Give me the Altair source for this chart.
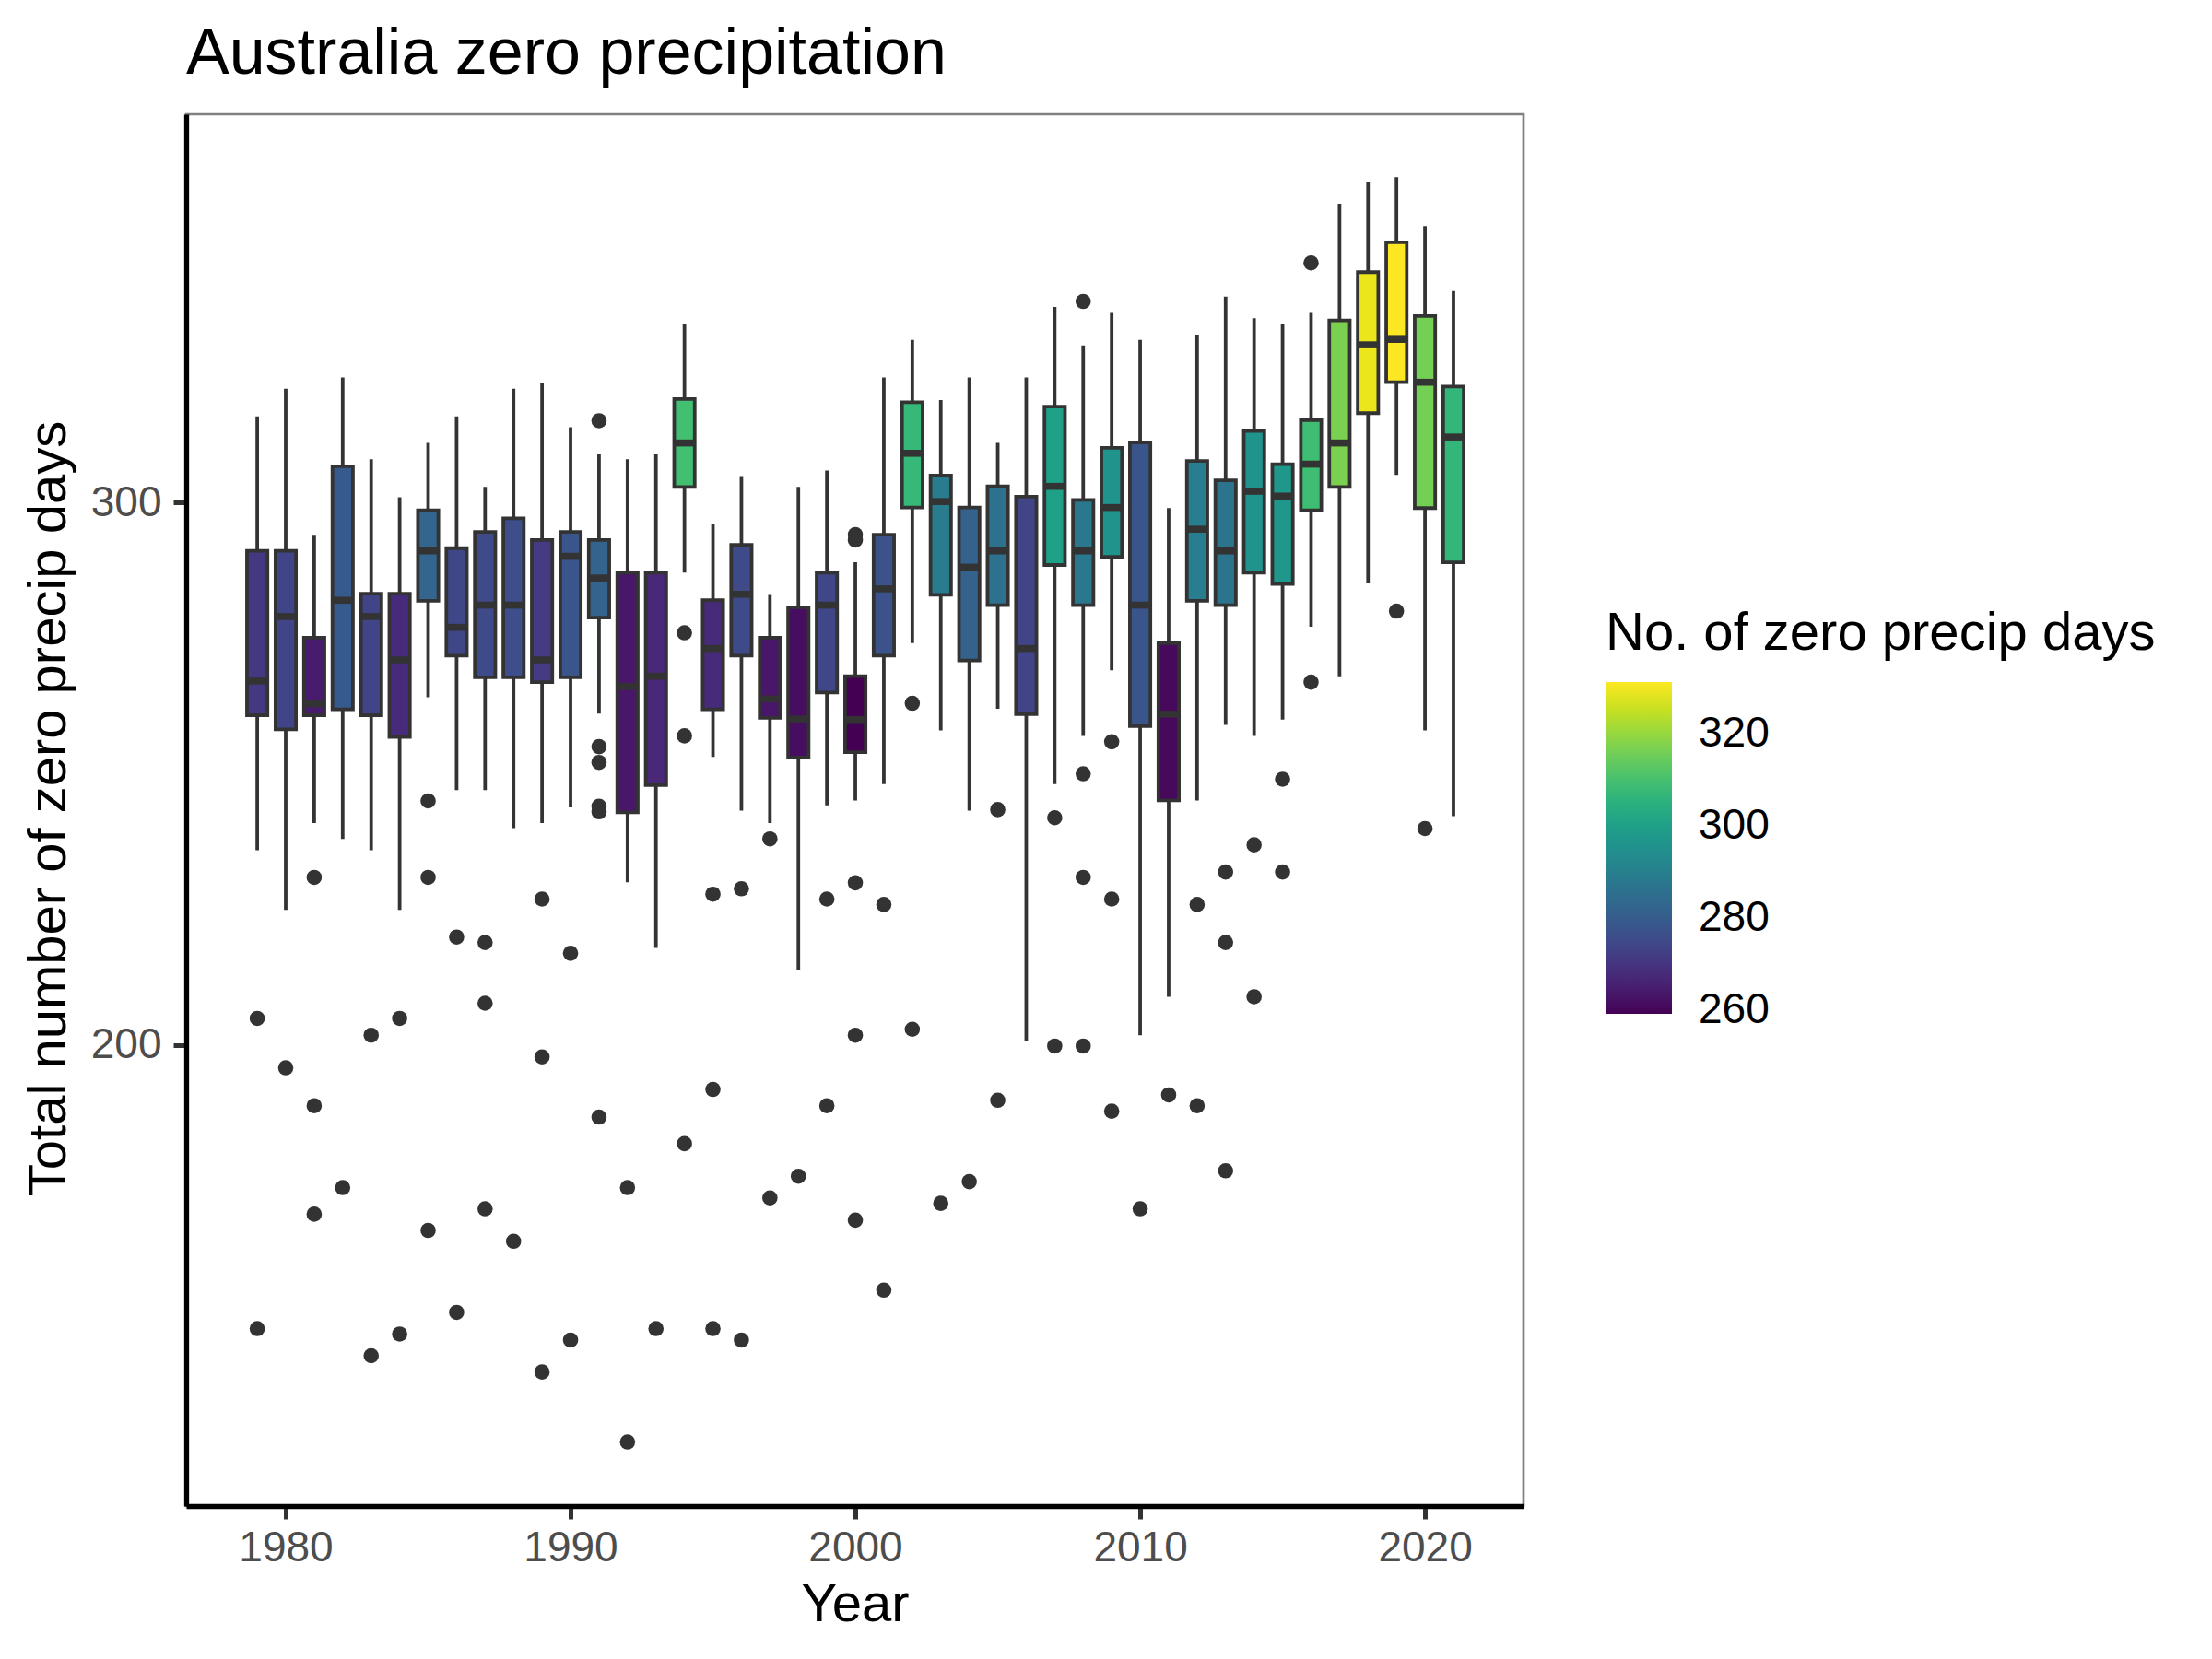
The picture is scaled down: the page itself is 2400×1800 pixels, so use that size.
#%%
# load packages
import pandas as pd
import altair as alt

# box statistics per year
years = list(range(1979, 2022))
lower = [235.9, 224.9, 240.9, 238.0, 235.9, 224.9, 264.1, 247.0, 247.0, 240.0,
         240.9, 243.8, 261.1, 230.0, 217.9, 287.1, 253.1, 243.2, 240.9, 213.9,
         244.2, 245.1, 248.1, 274.1, 258.0, 243.2, 262.0, 200.8, 248.1, 257.0,
         269.1, 201.8, 208.9, 245.1, 259.0, 257.0, 260.0, 277.1, 268.0, 285.1,
         305.1, 258.0, 242.2]
q1 = [260.8, 258.2, 260.8, 261.9, 260.8, 256.8, 281.9, 271.8, 267.8, 267.8,
      266.9, 267.8, 278.8, 242.9, 247.9, 302.9, 261.9, 271.8, 260.3, 253.0,
      265.0, 254.0, 271.8, 299.1, 283.0, 270.9, 281.1, 261.0, 288.5, 281.1,
      290.0, 258.8, 245.1, 281.9, 281.1, 287.1, 285.0, 298.6, 302.9, 316.5,
      322.2, 299.0, 289.0]
median = [267.1, 279.0, 262.9, 282.0, 279.0, 271.0, 291.1, 277.0, 281.1, 281.1,
          271.0, 290.1, 286.1, 266.1, 268.0, 311.0, 273.1, 283.1, 263.8, 260.1,
          281.1, 260.0, 284.1, 309.1, 300.2, 288.1, 291.1, 273.1, 303.0, 291.1,
          299.1, 281.1, 261.0, 295.1, 291.1, 302.1, 301.2, 307.1, 311.0, 329.1,
          330.1, 322.2, 312.1]
q3 = [291.1, 291.1, 275.1, 306.7, 283.2, 283.2, 298.6, 291.6, 294.6, 297.1,
      293.1, 294.6, 293.1, 287.1, 287.1, 319.1, 282.0, 292.2, 275.1, 280.7,
      287.1, 268.0, 294.1, 318.5, 305.0, 299.1, 303.0, 301.1, 317.7, 300.5,
      310.1, 311.1, 274.1, 307.7, 304.1, 313.2, 307.1, 315.2, 333.6, 342.5,
      348.0, 334.4, 321.4]
upper = [315.9, 321.0, 293.9, 323.1, 308.0, 301.0, 311.0, 315.9, 302.9, 321.0,
         322.0, 313.9, 308.9, 308.0, 308.9, 332.9, 296.0, 304.9, 283.0, 302.9,
         305.9, 289.0, 323.1, 330.0, 318.9, 323.1, 311.0, 323.1, 336.1, 329.0,
         335.0, 330.0, 299.0, 331.0, 338.0, 334.0, 332.9, 335.0, 355.1, 359.1,
         360.0, 351.0, 339.0]
# value behind each box's fill colour
fill_days = [270.6, 273.5, 264.1, 279.3, 273.5, 267.7, 282.1, 274.2, 275.0, 276.0,
             271.3, 277.8, 281.5, 263.4, 267.0, 309.5, 267.7, 275.0, 263.4, 261.3,
             274.2, 259.1, 277.1, 307.3, 288.6, 281.4, 285.7, 273.5, 300.1, 287.9,
             296.0, 277.8, 260.5, 289.3, 286.5, 295.8, 297.3, 308.8, 316.7, 328.9,
             331.1, 316.0, 306.6]

# outliers
out_year = [1979, 1979, 1980, 1981, 1981, 1981, 1982, 1983, 1983, 1984, 1984,
            1985, 1985, 1985, 1986, 1986, 1987, 1987, 1987, 1988,
            1989, 1989, 1989, 1990, 1990,
            1991, 1991, 1991, 1991, 1991, 1991, 1992, 1992, 1993,
            1994, 1994, 1994, 1995, 1995, 1995, 1996, 1996, 1997, 1997, 1998,
            1999, 1999, 2000, 2000, 2000, 2000, 2000, 2001, 2001, 2002, 2002,
            2003, 2004, 2005, 2005, 2007, 2007, 2008, 2008, 2008, 2008,
            2009, 2009, 2009, 2010, 2011, 2012, 2012, 2013, 2013, 2013,
            2014, 2014, 2015, 2015, 2016, 2016, 2019, 2020]
out_value = [204.9, 147.7, 195.8, 230.9, 188.8, 168.8, 173.7, 201.8, 142.7, 204.9, 146.7,
             245.0, 230.9, 165.8, 219.9, 150.7, 218.9, 207.7, 169.8, 163.8,
             226.9, 197.8, 139.7, 216.9, 145.6,
             315.1, 255.0, 252.1, 244.0, 243.0, 186.7, 173.7, 126.8, 147.7,
             276.0, 257.0, 181.8, 227.8, 191.8, 147.7, 228.8, 145.6, 238.0, 171.8, 175.8,
             226.9, 188.8, 294.1, 293.1, 229.9, 201.8, 167.7, 225.9, 154.8, 263.0, 202.9,
             170.8, 174.8, 243.4, 189.8, 241.9, 199.8, 337.1, 250.0, 230.9, 199.8,
             255.9, 226.9, 187.8, 169.8, 190.8, 225.9, 188.8, 231.9, 218.9, 176.8,
             236.9, 208.9, 249.0, 231.9, 344.2, 266.9, 280.0, 239.9]

boxes = pd.DataFrame({"year": years, "lower": lower, "q1": q1,
                      "median": median, "q3": q3, "upper": upper,
                      "fill_days": fill_days})
boxes["x_lo"] = boxes["year"] - 0.36
boxes["x_hi"] = boxes["year"] + 0.36
points = pd.DataFrame({"year": out_year, "value": out_value})

# %%
FONT = "Liberation Sans"
GREY20 = "#333333"

x_scale = alt.Scale(domain=[1976.505, 2023.46], nice=False, zero=False)
y_scale = alt.Scale(domain=[115.0, 371.6], nice=False, zero=False)
x_axis = alt.Axis(values=[1980, 1990, 2000, 2010, 2020], format="d",
                  titleY=124, titleBaseline="alphabetic", labelPadding=9)
y_axis = alt.Axis(values=[200, 300], titleX=-132, titleY=753, titleAngle=270,
                  titleBaseline="alphabetic", labelPadding=13)


def X(field):
    return alt.X(field, scale=x_scale, axis=x_axis, title="Year")


def Y(field):
    return alt.Y(field, scale=y_scale, axis=y_axis,
                 title="Total number of zero precip days")


whiskers = alt.Chart(boxes).mark_rule(color=GREY20, strokeWidth=3.8).encode(
    x=X("year:Q"),
    y=Y("lower:Q"),
    y2="upper:Q",
)

box = alt.Chart(boxes).mark_bar(stroke=GREY20, strokeWidth=3.8).encode(
    x=X("x_lo:Q"),
    x2="x_hi:Q",
    y=Y("q1:Q"),
    y2="q3:Q",
    fill=alt.Fill(
        "fill_days:Q",
        scale=alt.Scale(scheme="viridis", domain=[259.1, 331.1]),
        legend=alt.Legend(
            title="No. of zero precip days",
            values=[260, 280, 300, 320],
            direction="vertical",
            orient="none",
            legendX=1540,
            legendY=535,
            gradientLength=360,
            gradientThickness=72,
            gradientStrokeWidth=0,
            titleFontSize=58,
            titleFont=FONT,
            titleFontWeight="normal",
            titleColor="black",
            titlePadding=23,
            titleLimit=2000,
            labelFontSize=46,
            labelFont=FONT,
            labelColor="black",
            labelOffset=29,
            labelOverlap=False,
            labelLimit=500,
        ),
    ),
)

medians = alt.Chart(boxes).mark_rule(color=GREY20, strokeWidth=7.6).encode(
    x=X("x_lo:Q"),
    x2="x_hi:Q",
    y=Y("median:Q"),
)

outliers = alt.Chart(points).mark_circle(color=GREY20, size=275, opacity=1).encode(
    x=X("year:Q"),
    y=Y("value:Q"),
)

chart = alt.layer(whiskers, box, medians, outliers).properties(
    width=1451,
    height=1510,
    padding={"left": 194, "top": 116, "right": 739, "bottom": 158},
    autosize=alt.AutoSizeParams(type="none"),
    background="white",
    title=alt.TitleParams(
        "Australia zero precipitation",
        anchor="start",
        frame="group",
        font=FONT,
        fontSize=70,
        fontWeight="normal",
        color="black",
        baseline="alphabetic",
        offset=45,
        dy=71,
    ),
).configure_axis(
    grid=False,
    domainColor="black",
    domainWidth=5.3,
    tickColor=GREY20,
    tickWidth=5,
    tickSize=14,
    labelFont=FONT,
    labelFontSize=46,
    labelColor="#4D4D4D",
    titleFont=FONT,
    titleFontSize=58,
    titleFontWeight="normal",
    titleColor="black",
).configure_view(
    stroke="#808080",
    strokeWidth=2.7,
)

chart.save("out.html", embed_options={"renderer": "svg", "actions": False})
